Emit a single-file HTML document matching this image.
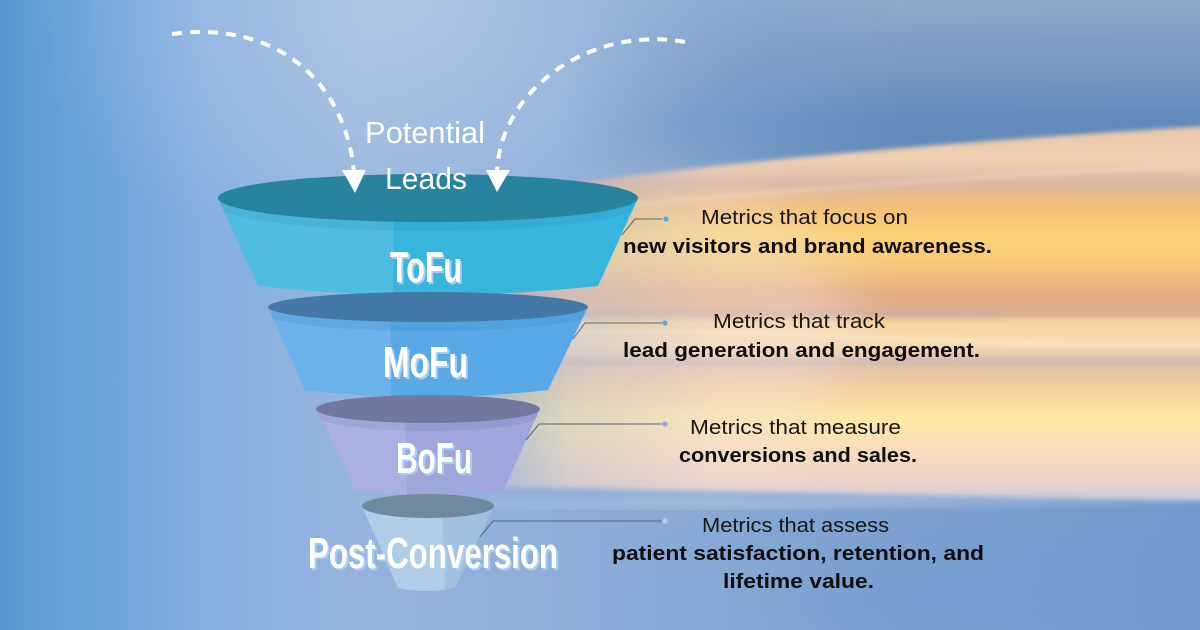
<!DOCTYPE html>
<html><head><meta charset="utf-8"><style>
html,body{margin:0;padding:0;width:1200px;height:630px;overflow:hidden;background:#7fa4d4}
svg{display:block}
</style></head><body>
<svg width="1200" height="630" viewBox="0 0 1200 630" xmlns="http://www.w3.org/2000/svg">
<defs>
  <linearGradient id="bgH" x1="0" y1="0" x2="1200" y2="0" gradientUnits="userSpaceOnUse">
    <stop offset="0" stop-color="#5895d0"/>
    <stop offset="0.07" stop-color="#6ba3da"/>
    <stop offset="0.17" stop-color="#84afde"/>
    <stop offset="0.3" stop-color="#95b5de"/>
    <stop offset="0.45" stop-color="#8eafda"/>
    <stop offset="0.6" stop-color="#85a8d5"/>
    <stop offset="0.8" stop-color="#7ca0cf"/>
    <stop offset="1" stop-color="#7398cb"/>
  </linearGradient>
  <radialGradient id="topGlow" cx="400" cy="0" r="380" gradientUnits="userSpaceOnUse" gradientTransform="translate(400 0) scale(1 0.7) translate(-400 0)">
    <stop offset="0" stop-color="#d0dcee" stop-opacity="0.45"/>
    <stop offset="1" stop-color="#d0dcee" stop-opacity="0"/>
  </radialGradient>
  <linearGradient id="topRight" x1="0" y1="0" x2="0" y2="200" gradientUnits="userSpaceOnUse">
    <stop offset="0" stop-color="#93abcb"/>
    <stop offset="0.6" stop-color="#5f88b8"/>
    <stop offset="1" stop-color="#5f88b8"/>
  </linearGradient>
  <linearGradient id="trFade" x1="560" y1="0" x2="900" y2="0" gradientUnits="userSpaceOnUse">
    <stop offset="0" stop-color="#fff" stop-opacity="0"/>
    <stop offset="1" stop-color="#fff" stop-opacity="0.9"/>
  </linearGradient>
  <mask id="trMask" maskUnits="userSpaceOnUse" x="0" y="0" width="1200" height="630">
    <rect x="0" y="0" width="1200" height="630" fill="url(#trFade)"/>
  </mask>
  <linearGradient id="warm" x1="0" y1="126" x2="0" y2="505" gradientUnits="userSpaceOnUse">
    <stop offset="0" stop-color="#eac6a8"/>
    <stop offset="0.09" stop-color="#f2d0b2"/>
    <stop offset="0.15" stop-color="#d8b6a4"/>
    <stop offset="0.21" stop-color="#f2bd7a"/>
    <stop offset="0.29" stop-color="#fdd274"/>
    <stop offset="0.36" stop-color="#f8c878"/>
    <stop offset="0.44" stop-color="#e4ad82"/>
    <stop offset="0.5" stop-color="#dcae92"/>
    <stop offset="0.515" stop-color="#f8d49a"/>
    <stop offset="0.58" stop-color="#f6dcb2"/>
    <stop offset="0.62" stop-color="#d8bcac"/>
    <stop offset="0.68" stop-color="#f2cc9a"/>
    <stop offset="0.77" stop-color="#fde8a4"/>
    <stop offset="0.86" stop-color="#f8dcbc"/>
    <stop offset="0.95" stop-color="#e8d2cc"/>
    <stop offset="1" stop-color="#c4cadc"/>
  </linearGradient>
  <linearGradient id="fadeH" x1="440" y1="0" x2="720" y2="0" gradientUnits="userSpaceOnUse">
    <stop offset="0" stop-color="#fff" stop-opacity="0"/>
    <stop offset="0.45" stop-color="#fff" stop-opacity="0.75"/>
    <stop offset="1" stop-color="#fff" stop-opacity="1"/>
  </linearGradient>
  <mask id="bandMask" maskUnits="userSpaceOnUse" x="0" y="0" width="1200" height="630">
    <rect x="0" y="0" width="1200" height="630" fill="url(#fadeH)"/>
  </mask>
  <filter id="b2" x="-10%" y="-20%" width="120%" height="140%"><feGaussianBlur stdDeviation="2.5"/></filter>
  <filter id="b6" x="-20%" y="-50%" width="140%" height="200%"><feGaussianBlur stdDeviation="6"/></filter>
  <filter id="b30" x="-50%" y="-100%" width="200%" height="300%"><feGaussianBlur stdDeviation="30"/></filter>
  <clipPath id="cTofu"><polygon points="0,0 396,0 390,630 0,630"/></clipPath>
  <clipPath id="cMofu"><polygon points="0,0 389,0 392,630 0,630"/></clipPath>
  <clipPath id="cBofu"><polygon points="0,0 396,0 410,630 0,630"/></clipPath>
  <clipPath id="cPost"><polygon points="0,0 420,0 447,630 0,630"/></clipPath>
  <clipPath id="bTofu"><path d="M218,198 L258,286 Q428,304 598,286 L638,198 Z"/></clipPath>
  <clipPath id="bMofu"><path d="M268,307 L305,390 Q428,404 548,390 L588,307 Z"/></clipPath>
  <clipPath id="bBofu"><path d="M316,409 L356,491 Q430,500 503,491 L540,409 Z"/></clipPath>
</defs>

<!-- background -->
<rect x="0" y="0" width="1200" height="630" fill="url(#bgH)"/>
<rect x="0" y="0" width="1200" height="300" fill="url(#topGlow)"/>
<rect x="0" y="0" width="1200" height="230" fill="url(#topRight)" mask="url(#trMask)"/>
<ellipse cx="1100" cy="590" rx="300" ry="60" fill="#6a98d0" opacity="0.4" filter="url(#b30)"/>

<!-- warm band -->
<g mask="url(#bandMask)">
  <path d="M430,205 C 650,168 900,145 1210,126 L1210,500 C 1000,498 800,492 430,486 Z" fill="url(#warm)" filter="url(#b2)"/>
  <ellipse cx="680" cy="330" rx="170" ry="150" fill="#f2e2dc" opacity="0.4" filter="url(#b30)"/>
  <path d="M560,212 C 780,190 1000,174 1210,166" stroke="#fff3e6" stroke-width="3" fill="none" opacity="0.35" filter="url(#b2)"/>
  <path d="M560,333 C 800,326 1000,350 1210,344" stroke="#fff6e6" stroke-width="3" fill="none" opacity="0.45" filter="url(#b2)"/>
  <path d="M480,318 C 650,310 820,312 1000,314" stroke="#a8b0c8" stroke-width="8" fill="none" opacity="0.3" filter="url(#b6)"/>
  <path d="M540,364 C 800,356 1000,366 1210,360" stroke="#a8aec4" stroke-width="7" fill="none" opacity="0.3" filter="url(#b6)"/>
  <path d="M480,505 C 800,503 1000,498 1210,494" stroke="#c6d2e4" stroke-width="8" fill="none" opacity="0.7" filter="url(#b6)"/>
</g>

<!-- dashed arrows -->
<path d="M172,34 C 275,20 345,80 354,172" stroke="#fff" stroke-width="4" fill="none" stroke-dasharray="10 8"/>
<path d="M685,42 C 590,25 500,90 497,172" stroke="#fff" stroke-width="4" fill="none" stroke-dasharray="10 8"/>

<!-- ToFu -->
<path d="M218,198 L258,286 Q428,304 598,286 L638,198 Z" fill="#38b5dc"/>
<path d="M218,198 L258,286 Q428,304 598,286 L638,198 Z" fill="#4fbde0" clip-path="url(#cTofu)"/>
<g clip-path="url(#bTofu)"><ellipse cx="428" cy="205" rx="210" ry="26" fill="#1d7aa0" opacity="0.13"/></g>
<ellipse cx="428" cy="198" rx="210" ry="24" fill="#28839f"/>

<!-- MoFu -->
<path d="M268,307 L305,390 Q428,404 548,390 L588,307 Z" fill="#59a9e7"/>
<path d="M268,307 L305,390 Q428,404 548,390 L588,307 Z" fill="#6bb2ec" clip-path="url(#cMofu)"/>
<g clip-path="url(#bMofu)"><ellipse cx="428" cy="314" rx="160" ry="17" fill="#2a6aa8" opacity="0.13"/></g>
<ellipse cx="428" cy="307" rx="160" ry="15" fill="#4479a7"/>

<!-- BoFu -->
<path d="M316,409 L356,491 Q430,500 503,491 L540,409 Z" fill="#9ea6dc"/>
<path d="M316,409 L356,491 Q430,500 503,491 L540,409 Z" fill="#aab1e2" clip-path="url(#cBofu)"/>
<g clip-path="url(#bBofu)"><ellipse cx="428" cy="415" rx="112" ry="16" fill="#50508a" opacity="0.12"/></g>
<ellipse cx="428" cy="409" rx="112" ry="14" fill="#72779f"/>

<!-- Post -->
<path d="M362,506 L398,588 Q427,594 455,588 L494,506 Z" fill="#a2c4e0" opacity="0.85"/>
<path d="M362,506 L398,588 Q427,594 455,588 L494,506 Z" fill="#b4d0e8" opacity="0.8" clip-path="url(#cPost)"/>
<ellipse cx="428" cy="506" rx="66" ry="12" fill="#6f8a9e"/>

<!-- arrowheads -->
<polygon points="342,170 366,170 355,193" fill="#fff"/>
<polygon points="486,170 510,170 497,192" fill="#fff"/>

<!-- Potential Leads -->
<g font-family="'Liberation Sans', sans-serif" fill="#fff" font-size="31">
  <text x="365" y="143" textLength="120" lengthAdjust="spacingAndGlyphs">Potential</text>
  <text x="385" y="189" textLength="82" lengthAdjust="spacingAndGlyphs">Leads</text>
</g>

<!-- stage labels -->
<g font-family="'Liberation Sans', sans-serif" font-weight="bold" font-size="44">
  <g fill="#a9cdf0">
    <text x="392" y="284" textLength="72" lengthAdjust="spacingAndGlyphs">ToFu</text>
    <text x="385" y="379" textLength="85" lengthAdjust="spacingAndGlyphs">MoFu</text>
    <text x="398" y="475" textLength="76" lengthAdjust="spacingAndGlyphs">BoFu</text>
    <text x="310" y="570" textLength="250" lengthAdjust="spacingAndGlyphs">Post-Conversion</text>
  </g>
  <g fill="#fff">
    <text x="390" y="282" textLength="72" lengthAdjust="spacingAndGlyphs">ToFu</text>
    <text x="383" y="377" textLength="85" lengthAdjust="spacingAndGlyphs">MoFu</text>
    <text x="396" y="473" textLength="76" lengthAdjust="spacingAndGlyphs">BoFu</text>
    <text x="308" y="568" textLength="250" lengthAdjust="spacingAndGlyphs">Post-Conversion</text>
  </g>
</g>

<!-- connectors -->
<g stroke="#5c6472" stroke-width="1" fill="none">
  <polyline points="622,235 635,219 662,219"/>
  <polyline points="573,339 585,323 662,323"/>
  <polyline points="526,440 539,424 662,424"/>
  <polyline points="480,537 493,521 662,521"/>
</g>
<circle cx="666" cy="219" r="2.6" fill="#3ab5e0"/>
<circle cx="665" cy="323" r="2.6" fill="#58a8e6"/>
<circle cx="665" cy="424" r="2.6" fill="#98a0dc"/>
<circle cx="665" cy="521" r="2.6" fill="#b4cce6"/>

<!-- descriptions -->
<g font-family="'Liberation Sans', sans-serif" font-size="20" fill="#161616">
  <text x="701" y="224" textLength="207" lengthAdjust="spacingAndGlyphs">Metrics that focus on</text>
  <text x="623" y="253" textLength="369" lengthAdjust="spacingAndGlyphs" font-weight="bold" fill="#0e0e0e">new visitors and brand awareness.</text>
  <text x="713" y="328" textLength="172" lengthAdjust="spacingAndGlyphs">Metrics that track</text>
  <text x="623" y="357" textLength="357" lengthAdjust="spacingAndGlyphs" font-weight="bold" fill="#0e0e0e">lead generation and engagement.</text>
  <text x="690" y="434" textLength="211" lengthAdjust="spacingAndGlyphs">Metrics that measure</text>
  <text x="679" y="462" textLength="238" lengthAdjust="spacingAndGlyphs" font-weight="bold" fill="#0e0e0e">conversions and sales.</text>
  <text x="702" y="532" textLength="187" lengthAdjust="spacingAndGlyphs">Metrics that assess</text>
  <text x="612" y="560" textLength="372" lengthAdjust="spacingAndGlyphs" font-weight="bold" fill="#0e0e0e">patient satisfaction, retention, and</text>
  <text x="723" y="588" textLength="151" lengthAdjust="spacingAndGlyphs" font-weight="bold" fill="#0e0e0e">lifetime value.</text>
</g>
</svg>
</body></html>
